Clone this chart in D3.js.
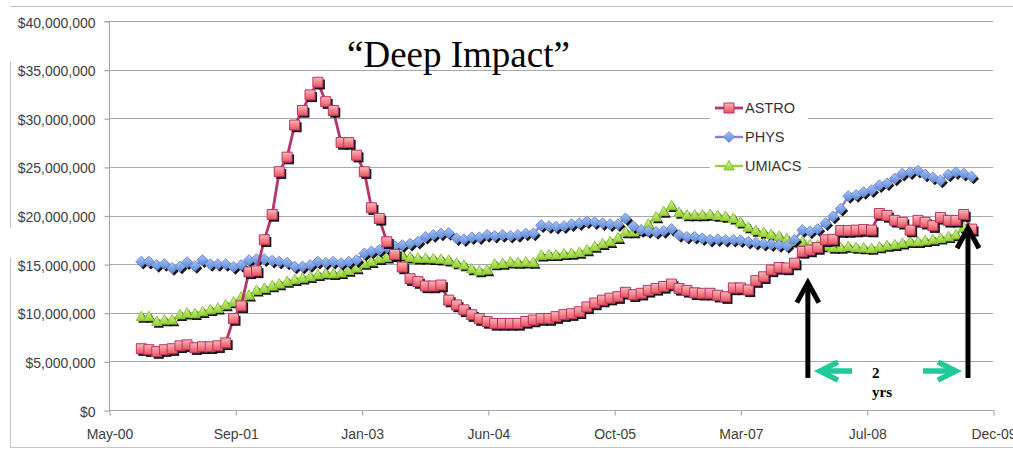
<!DOCTYPE html>
<html><head><meta charset="utf-8">
<script src="https://cdn.jsdelivr.net/npm/d3@7"></script>
<style>html,body{margin:0;padding:0;background:#fff;} svg{display:block;}</style>
</head><body>
<svg id="chart" width="1013" height="450"></svg>
<script>
// ---------- data (values in millions of dollars, monthly) ----------
const seriesNames = ["ASTRO", "PHYS", "UMIACS"];
const firstMonth = "2000-09-15";
const astro = [
  6.3, 6.2, 6.0, 6.2, 6.3, 6.6, 6.7, 6.4, 6.5, 6.5,
  6.6, 6.9, 9.4, 10.7, 14.2, 14.3, 17.5, 20.1, 24.5, 26.0,
  29.3, 30.8, 32.4, 33.7, 31.7, 30.8, 27.5, 27.5, 26.2, 24.5,
  20.8, 19.7, 17.3, 16.0, 14.7, 13.5, 13.2, 12.75, 12.75, 12.85,
  11.3, 10.8, 10.3, 9.8, 9.4, 9.1, 8.9, 8.9, 8.9, 8.9,
  9.1, 9.25, 9.4, 9.4, 9.6, 9.8, 9.9, 10.1, 10.6, 11.0,
  11.3, 11.5, 11.65, 12.1, 11.85, 12.0, 12.3, 12.5, 12.7, 12.95,
  12.5, 12.3, 12.05, 12.0, 12.0, 11.8, 11.65, 12.55, 12.55, 12.35,
  13.3, 13.7, 14.4, 14.65, 14.6, 15.1, 16.3, 16.45, 16.7, 17.5,
  17.55, 18.45, 18.45, 18.5, 18.55, 18.5, 20.2, 20.0, 19.5, 19.3,
  18.5, 19.5, 19.3, 18.95, 19.8, 19.5, 19.5, 20.1, 18.6
];
const phys = [
  15.25, 15.25, 14.9, 15.0, 14.6, 14.75, 15.2, 14.8, 15.4, 15.0,
  15.0, 15.0, 14.7, 14.9, 15.4, 15.5, 15.5, 15.35, 15.25, 15.15,
  14.75, 14.75, 14.9, 15.25, 15.15, 15.25, 15.1, 15.25, 15.4, 16.1,
  16.3, 16.45, 16.7, 16.85, 16.95, 17.1, 17.3, 17.8, 18.0, 18.15,
  18.2, 17.65, 17.55, 17.75, 17.75, 18.0, 17.9, 18.0, 17.9, 18.0,
  18.15, 18.15, 19.0, 18.9, 18.85, 18.9, 19.1, 19.2, 19.4, 19.3,
  19.2, 19.1, 19.1, 19.7, 18.9, 18.5, 18.4, 18.3, 18.4, 18.6,
  18.0, 17.8, 17.8, 17.65, 17.5, 17.55, 17.5, 17.5, 17.45, 17.3,
  17.2, 17.1, 17.05, 16.95, 16.85, 17.5, 18.5, 18.35, 18.6, 19.2,
  19.9, 20.7, 22.0, 22.1, 22.4, 22.6, 23.1, 23.3, 23.8, 24.3,
  24.45, 24.6, 24.2, 23.9, 23.6, 24.2, 24.45, 24.3, 24.0
];
const umiacs = [
  9.6, 9.6, 9.1, 9.25, 9.25, 9.8, 9.95, 9.9, 10.1, 10.3,
  10.45, 10.8, 11.1, 11.6, 11.8, 12.3, 12.5, 12.75, 12.95, 13.2,
  13.4, 13.55, 13.7, 13.9, 14.05, 14.0, 14.1, 14.35, 14.6, 15.05,
  15.25, 15.55, 15.7, 15.85, 15.9, 15.7, 15.6, 15.6, 15.55, 15.5,
  15.4, 15.1, 14.9, 14.5, 14.3, 14.4, 15.0, 15.05, 15.2, 15.15,
  15.2, 15.15, 15.9, 15.95, 15.95, 16.05, 16.1, 16.2, 16.45, 16.8,
  17.1, 17.3, 17.7, 18.3, 18.3, 18.5, 19.1, 19.85, 20.4, 21.0,
  20.3, 20.05, 20.05, 20.05, 20.1, 20.0, 19.9, 19.7, 19.3, 18.8,
  18.45, 18.25, 18.05, 17.85, 17.6, 17.35, 17.3, 17.0, 16.95, 16.85,
  16.7, 16.7, 16.8, 16.7, 16.65, 16.6, 16.75, 16.9, 17.0, 17.15,
  17.3, 17.3, 17.4, 17.5, 17.65, 17.8, 18.0, 18.8, 18.5
];
const yTickValues = [0, 5, 10, 15, 20, 25, 30, 35, 40];
const xTickLabels = ["May-00", "Sep-01", "Jan-03", "Jun-04", "Oct-05", "Mar-07", "Jul-08", "Dec-09"];
const xStart = "2000-05-10", xEnd = "2009-12-09", xTickStepDays = 500;
const titleText = "\u201CDeep Impact\u201D";
// annotations (date, value in millions)
const blackArrows = [{date: "2007-12-07", from: 3.3, to: 13.3}, {date: "2009-09-01", from: 3.3, to: 18.9}];
const greenArrows = [{from: "2008-05-30", to: "2008-01-16", v: 4.0}, {from: "2009-03-07", to: "2009-07-23", v: 4.0}];
const spanText = [{t: "2", date: "2008-08-17", v: 3.3}, {t: "yrs", date: "2008-08-17", v: 1.35}];

// ---------- setup ----------
const svg = d3.select("#chart");
const W = 1013, H = 450;
const pLeft = 109, pRight = 993, pTop = 21, pBottom = 410;
const parse = d3.utcParse("%Y-%m-%d");
const x = d3.scaleUtc().domain([parse(xStart), parse(xEnd)]).range([pLeft, pRight]);
const y = d3.scaleLinear().domain([0, 40]).range([pBottom, pTop]);
const start = parse(firstMonth);
const dates = astro.map((_, i) => d3.utcMonth.offset(start, i));
const xTicks = xTickLabels.map((_, k) => d3.utcDay.offset(parse(xStart), k * xTickStepDays));

// frame
const frame = "#c4c4c4";
svg.append("line").attr("x1", 10).attr("x2", W).attr("y1", 6.5).attr("y2", 6.5).attr("stroke", frame);
svg.append("line").attr("x1", 10).attr("x2", W).attr("y1", 447.5).attr("y2", 447.5).attr("stroke", frame);
svg.append("line").attr("x1", 10.5).attr("x2", 10.5).attr("y1", 62).attr("y2", 228).attr("stroke", frame);
svg.append("line").attr("x1", 10.5).attr("x2", 10.5).attr("y1", 258).attr("y2", 448).attr("stroke", frame);

// defs
const defs = svg.append("defs");
function grad(id, c1, c2) {
  const g = defs.append("linearGradient").attr("id", id).attr("x1", 0).attr("y1", 0).attr("x2", 0).attr("y2", 1);
  g.append("stop").attr("offset", "0%").attr("stop-color", c1);
  g.append("stop").attr("offset", "100%").attr("stop-color", c2);
}
grad("gA", "#fbb9b9", "#e9505a");
grad("gP", "#a9c6f5", "#5287dc");
grad("gU", "#d8f5a0", "#92d22c");
defs.append("filter").attr("id", "blur").append("feGaussianBlur").attr("stdDeviation", 0.6);

// gridlines
const gridColor = "#a9a9a9";
svg.append("g").selectAll("line").data(yTickValues.filter(v => v > 0)).join("line")
  .attr("x1", pLeft).attr("x2", pRight)
  .attr("y1", d => Math.round(y(d)) + 0.5).attr("y2", d => Math.round(y(d)) + 0.5)
  .attr("stroke", gridColor).attr("stroke-width", 1.2);

// y axis
const yAxis = d3.axisLeft(y).tickValues(yTickValues).tickSize(5).tickPadding(9)
  .tickFormat(d => "$" + d3.format(",")(Math.round(d * 1e6)));
const gy = svg.append("g").attr("transform", `translate(${pLeft + 0.5},0.5)`).call(yAxis);
gy.select(".domain").attr("stroke", gridColor).attr("stroke-width", 1.2).attr("d", `M-5,${pTop}H0V${pBottom}`);
gy.selectAll(".tick line").attr("stroke", gridColor).attr("stroke-width", 1.2);
gy.selectAll("text").attr("font-family", "Liberation Sans, Arial, sans-serif").attr("font-size", 14)
  .attr("fill", "#404040").attr("dy", "0.4em");

// x axis
const xAxis = d3.axisBottom(x).tickValues(xTicks).tickSize(5).tickPadding(14)
  .tickFormat((d, i) => xTickLabels[i]);
const gx = svg.append("g").attr("transform", `translate(0.5,${pBottom + 0.5})`).call(xAxis);
gx.select(".domain").attr("stroke", gridColor).attr("stroke-width", 1.2).attr("d", `M${pLeft},0H${pRight}`);
gx.selectAll(".tick line").attr("stroke", gridColor).attr("stroke-width", 1.2);
gx.selectAll("text").attr("font-family", "Liberation Sans, Arial, sans-serif").attr("font-size", 14)
  .attr("fill", "#404040");

// legend box
const legendX = 710, legendY = 92;
svg.append("rect").attr("x", legendX).attr("y", legendY).attr("width", 98).attr("height", 86).attr("fill", "#fff");

// markers
const shapes = {
  square: "M-5,-5H5V5H-5Z",
  diamond: "M0,-5.5L5.5,0L0,5.5L-5.5,0Z",
  triangle: "M0,-5.5L5.2,4L-5.2,4Z"
};
const series = [
  {name: seriesNames[0], values: astro, line: "#b8336c", lw: 2.8, fill: "url(#gA)", stroke: "#b8336c", shape: shapes.square},
  {name: seriesNames[1], values: phys, line: "#8a80cc", lw: 2.4, fill: "url(#gP)", stroke: "#7a88d2", shape: shapes.diamond},
  {name: seriesNames[2], values: umiacs, line: "#9ad032", lw: 2.4, fill: "url(#gU)", stroke: "#8cc43a", shape: shapes.triangle}
];
const drawOrder = [2, 1, 0];
const lineGen = d3.line().x((d, i) => x(dates[i])).y(d => y(d));

drawOrder.forEach(k => {
  const s = series[k];
  const g = svg.append("g");
  g.append("path").attr("d", lineGen(s.values)).attr("fill", "none")
    .attr("stroke", s.line).attr("stroke-width", s.lw).attr("stroke-linejoin", "round");
  g.append("g").selectAll("path").data(s.values).join("path")
    .attr("d", s.shape).attr("transform", (d, i) => `translate(${x(dates[i]) + 2},${y(d) + 2.2})`)
    .attr("fill", "#000").attr("opacity", 0.9).attr("filter", "url(#blur)");
  g.append("g").selectAll("path").data(s.values).join("path")
    .attr("d", s.shape).attr("transform", (d, i) => `translate(${x(dates[i])},${y(d)})`)
    .attr("fill", s.fill).attr("stroke", s.stroke).attr("stroke-width", 1);
});

// legend items
series.forEach((s, k) => {
  const ly = 108 + k * 29;
  const g = svg.append("g").attr("transform", `translate(${legendX + 5},${ly})`);
  g.append("line").attr("x1", 0).attr("x2", 28).attr("stroke", s.line).attr("stroke-width", s.lw);
  g.append("path").attr("d", s.shape).attr("transform", "translate(14,0)")
    .attr("fill", s.fill).attr("stroke", s.stroke);
  g.append("text").attr("x", 30).attr("y", 0).attr("dy", "0.36em")
    .attr("font-family", "Liberation Sans, Arial, sans-serif").attr("font-size", 14.5)
    .attr("fill", "#333").text(s.name);
});

// title
svg.append("text").attr("x", 347).attr("y", 67)
  .attr("font-family", "Liberation Serif, Times New Roman, serif").attr("font-size", 37)
  .attr("fill", "#000").text(titleText);

// black arrows
blackArrows.forEach(a => {
  const ax = x(parse(a.date)), y0 = y(a.from), y1 = y(a.to);
  svg.append("line").attr("x1", ax).attr("x2", ax).attr("y1", y0).attr("y2", y1 + 2)
    .attr("stroke", "#000").attr("stroke-width", 5);
  svg.append("path").attr("d", `M${ax - 11},${y1 + 22}L${ax},${y1 + 2}L${ax + 11},${y1 + 22}`)
    .attr("fill", "none").attr("stroke", "#000").attr("stroke-width", 5).attr("stroke-linejoin", "miter");
});
// green arrows
greenArrows.forEach(a => {
  const x0 = x(parse(a.from)), x1 = x(parse(a.to)), gy0 = y(a.v);
  const dir = x1 < x0 ? 1 : -1;
  svg.append("line").attr("x1", x0).attr("x2", x1 + dir * 2).attr("y1", gy0).attr("y2", gy0)
    .attr("stroke", "#1ec99a").attr("stroke-width", 5.5);
  svg.append("path").attr("d", `M${x1 + dir * 20},${gy0 - 9}L${x1 + dir * 2},${gy0}L${x1 + dir * 20},${gy0 + 9}`)
    .attr("fill", "none").attr("stroke", "#1ec99a").attr("stroke-width", 5.5).attr("stroke-linejoin", "miter");
});
spanText.forEach(t => {
  svg.append("text").attr("x", x(parse(t.date))).attr("y", y(t.v))
    .attr("font-family", "Liberation Serif, Times New Roman, serif").attr("font-weight", "bold")
    .attr("font-size", 15).attr("fill", "#000").text(t.t);
});
</script>
</body></html>
